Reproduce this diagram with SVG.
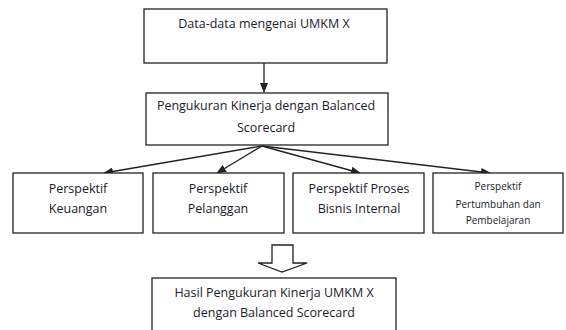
<svg xmlns="http://www.w3.org/2000/svg" width="566" height="330" viewBox="0 0 566 330">
<style>
.box{fill:#fff;stroke:#222;stroke-width:1.3}
.t{font-family:"Open Sans","Liberation Sans",sans-serif;font-size:12.5px;fill:#1a1a2a;text-anchor:middle}
.s{font-size:10px}
.c{stroke:#222;stroke-width:1.3;fill:none}
</style>
<defs>
<marker id="ah" markerWidth="10" markerHeight="8" refX="9" refY="4" orient="auto" markerUnits="userSpaceOnUse">
<path d="M0,0 L10,4 L0,8 Z" fill="#222"/>
</marker>
</defs>
<rect width="566" height="330" fill="#fff"/>
<g id="connectors">
<line class="c" x1="264" y1="63" x2="264" y2="92" marker-end="url(#ah)"/>
<line class="c" x1="262" y1="146" x2="104" y2="173" marker-end="url(#ah)"/>
<line class="c" x1="262" y1="146" x2="217" y2="173" marker-end="url(#ah)"/>
<line class="c" x1="262" y1="146" x2="360" y2="173" marker-end="url(#ah)"/>
<line class="c" x1="262" y1="146" x2="490" y2="173" marker-end="url(#ah)"/>
<path class="box" d="M272,245 H293 V263 H307 L282,272 L258,263 H272 Z"/>
</g>
<g id="n1">
<rect class="box" x="144" y="9" width="243" height="54"/>
<text class="t" x="264" y="28">Data-data mengenai UMKM X</text>
</g>
<g id="n2">
<rect class="box" x="146" y="93" width="242" height="52"/>
<text class="t" x="266" y="110">Pengukuran Kinerja dengan Balanced</text>
<text class="t" x="266" y="132">Scorecard</text>
</g>
<g id="n3">
<rect class="box" x="13" y="173" width="130" height="60"/>
<text class="t" x="78" y="193">Perspektif</text>
<text class="t" x="78" y="213">Keuangan</text>
</g>
<g id="n4">
<rect class="box" x="153" y="173" width="131" height="60"/>
<text class="t" x="218" y="193">Perspektif</text>
<text class="t" x="218" y="213">Pelanggan</text>
</g>
<g id="n5">
<rect class="box" x="293" y="173" width="131" height="60"/>
<text class="t" x="359" y="193">Perspektif Proses</text>
<text class="t" x="359" y="213">Bisnis Internal</text>
</g>
<g id="n6">
<rect class="box" x="433" y="173" width="130" height="60"/>
<text class="t s" x="498" y="190">Perspektif</text>
<text class="t s" x="498" y="208">Pertumbuhan dan</text>
<text class="t s" x="498" y="224">Pembelajaran</text>
</g>
<g id="n7">
<rect class="box" x="152" y="278" width="244" height="60"/>
<text class="t" x="274" y="297">Hasil Pengukuran Kinerja UMKM X</text>
<text class="t" x="274" y="317">dengan Balanced Scorecard</text>
</g>
</svg>
